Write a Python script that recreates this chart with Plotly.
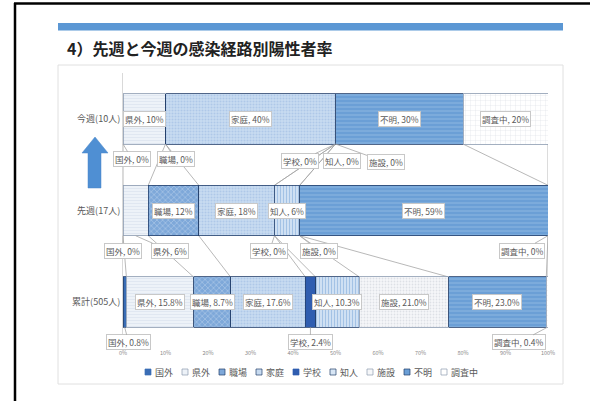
import plotly.graph_objects as go

# ---------------- data ----------------
categories = ["累計(505人)", "先週(17人)", "今週(10人)"]
series = ["国外", "県外", "職場", "家庭", "学校", "知人", "施設", "不明", "調査中"]
cumulative = [0.8, 15.8, 8.7, 17.6, 2.4, 10.3, 21.0, 23.0, 0.4]
last_week = [0, 6, 12, 18, 0, 6, 0, 59, 0]
this_week = [0, 10, 0, 40, 0, 0, 0, 30, 20]
rows = [cumulative, last_week, this_week]
row_decimals = [1, 0, 0]
tick_values = [0, 10, 20, 30, 40, 50, 60, 70, 80, 90, 100]
tick_labels = ["0%", "10%", "20%", "30%", "40%", "50%", "60%", "70%", "80%", "90%", "100%"]
title = "4）先週と今週の感染経路別陽性者率"

# ---------------- styles ----------------
FONT = "Noto Sans CJK JP"
DARK = "#24406b"
LIGHT = "#8c9bb0"
styles = {
    "国外": dict(bg="#3a6db5", shape="", fg="#3a6db5", size=4, sol=0.3, line=DARK),
    "県外": dict(bg="#edf2f8", shape="-", fg="#c9d6e6", size=3, sol=0.25, line=LIGHT),
    "職場": dict(bg="#7ea8d9", shape="x", fg="#d8e6f5", size=4, sol=0.3, line=DARK),
    "家庭": dict(bg="#c8dbf0", shape=".", fg="#93b6df", size=3, sol=0.35, line=DARK),
    "学校": dict(bg="#2f5db0", shape="", fg="#2f5db0", size=4, sol=0.3, line=DARK),
    "知人": dict(bg="#d8e6f5", shape="|", fg="#6e9ed5", size=3, sol=0.45, line=DARK),
    "施設": dict(bg="#f6f7f9", shape=".", fg="#c3cad4", size=3, sol=0.3, line=LIGHT),
    "不明": dict(bg="#6b9fd6", shape="-", fg="#a3c6ea", size=4, sol=0.3, line=DARK),
    "調査中": dict(bg="#ffffff", shape="+", fg="#b3bcc8", size=5, sol=0.12, line=LIGHT),
}
BAR_W = 0.55

# callout label offsets (pixels, label centre relative to point at segment centre / bar bottom)
callouts = {
    (2, "国外"): (9, 15), (2, "職場"): (10, 15), (2, "学校"): (-36, 17),
    (2, "知人"): (6, 17), (2, "施設"): (50, 18),
    (1, "国外"): (0, 15), (1, "県外"): (34, 15), (1, "学校"): (-5, 15),
    (1, "施設"): (19, 15), (1, "調査中"): (-26, 15),
    (0, "国外"): (4, 15), (0, "学校"): (0, 15), (0, "調査中"): (-28, 15),
}

# plot area in pixels
W, H = 590, 401
L, R, T, B = 123, 548, 73, 348


def px(x):
    return (x - L) / (R - L)


def py(y):
    return (B - y) / (B - T)


fig = go.Figure()
for k, s in enumerate(series):
    st = styles[s]
    pattern = dict(shape=st["shape"], bgcolor=st["bg"], fgcolor=st["fg"],
                   size=st["size"], solidity=st["sol"], fillmode="overlay")
    fig.add_trace(go.Bar(
        y=list(range(len(rows))), x=[r[k] for r in rows], orientation="h",
        name=s, width=BAR_W,
        marker=dict(color=st["bg"], pattern=pattern,
                    line=dict(color=st["line"], width=0.8)),
        showlegend=False, hoverinfo="skip",
    ))

# normalised cumulative positions
cum_pct = []
for r in rows:
    tot = sum(r)
    acc, c = 0, []
    for v in r:
        acc += v
        c.append(acc / tot * 100)
    cum_pct.append(c)

shapes = []
annotations = []

# series lines between adjacent bars
for top in (2, 1):
    bot = top - 1
    for k in range(len(series)):
        shapes.append(dict(type="line", xref="x", yref="y",
                           x0=cum_pct[top][k], y0=top - BAR_W / 2,
                           x1=cum_pct[bot][k], y1=bot + BAR_W / 2,
                           line=dict(color="#a6a6a6", width=0.8), layer="below"))

# data labels
for ri, r in enumerate(rows):
    tot = sum(r)
    for k, s in enumerate(series):
        v = r[k]
        txt = f"{s}, {v:.{row_decimals[ri]}f}%"
        start = cum_pct[ri][k] - v / tot * 100
        xc = start + v / tot * 100 / 2
        common = dict(text=txt, font=dict(family=FONT, size=8.5, color="#595959"),
                      bgcolor="white", bordercolor="#c8c8c8", borderwidth=1,
                      borderpad=1, xref="x", yref="y")
        if (ri, s) in callouts:
            dx, dy = callouts[(ri, s)]
            annotations.append(dict(x=xc, y=ri - BAR_W / 2, ax=dx, ay=dy,
                                    axref="pixel", ayref="pixel", showarrow=True,
                                    arrowhead=0, arrowwidth=0.8, arrowcolor="#a6a6a6",
                                    standoff=0, **common))
        elif v > 0:
            annotations.append(dict(x=xc, y=ri, showarrow=False, **common))

# frame, header bar, panel
shapes += [
    dict(type="line", xref="paper", yref="paper", x0=px(15), x1=px(15), y0=py(3), y1=py(402),
         line=dict(color="black", width=2.5)),
    dict(type="line", xref="paper", yref="paper", x0=px(14), x1=px(591), y0=py(3.5), y1=py(3.5),
         line=dict(color="black", width=2.5)),
    dict(type="rect", xref="paper", yref="paper", x0=px(58), x1=px(563), y0=py(23), y1=py(30.5),
         fillcolor="#5b97d4", line=dict(width=0)),
    dict(type="rect", xref="paper", yref="paper", x0=px(58), x1=px(563), y0=py(65), y1=py(384),
         fillcolor="rgba(0,0,0,0)", line=dict(color="#e0e0e0", width=1), layer="below"),
]

# blue upward arrow
pts = [(95, 137), (108, 153), (101, 153), (101, 188), (88, 188), (88, 153), (82, 153)]
path = "M " + " L ".join(f"{px(x):.5f},{py(y):.5f}" for x, y in pts) + " Z"
shapes.append(dict(type="path", xref="paper", yref="paper", path=path,
                   fillcolor="#4f8fd3", line=dict(color="#4a86c8", width=0.5)))

# title
annotations.append(dict(text=f"<b>{title}</b>", x=px(65), y=py(48), xref="paper", yref="paper",
                        xanchor="left", yanchor="middle", showarrow=False,
                        font=dict(family=FONT, size=16, color="#222222")))

# custom legend
lx = 145
ly = 372
for s in series:
    st = styles[s]
    shapes.append(dict(type="rect", xref="paper", yref="paper",
                       x0=px(lx), x1=px(lx + 6), y0=py(ly - 3), y1=py(ly + 3),
                       fillcolor=st["bg"] if st["bg"] != "#ffffff" else "white",
                       line=dict(color=st["line"] if st["shape"] else st["bg"], width=0.7)))
    annotations.append(dict(text=s, x=px(lx + 8), y=py(ly), xref="paper", yref="paper",
                            xanchor="left", yanchor="middle", showarrow=False,
                            font=dict(family=FONT, size=9, color="#595959")))
    lx += 8 + 9 * len(s) + 11

fig.update_layout(
    width=W, height=H, barmode="stack", barnorm="percent",
    margin=dict(l=L, r=W - R, t=T, b=H - B, pad=0),
    paper_bgcolor="white", plot_bgcolor="white",
    font=dict(family=FONT),
    xaxis=dict(range=[0, 100], tickmode="array", tickvals=tick_values, ticktext=tick_labels,
               tickfont=dict(size=5.5, color="#8a8a8a"), showgrid=False, zeroline=False,
               showline=False, ticks=""),
    yaxis=dict(range=[-0.5, 2.5], tickvals=[0, 1, 2], ticktext=categories,
               tickfont=dict(size=9, color="#595959"), showgrid=False, zeroline=False,
               showline=True, linecolor="#d9d9d9", linewidth=1, ticks=""),
    shapes=shapes, annotations=annotations, showlegend=False,
)

fig.write_html("out.html")
